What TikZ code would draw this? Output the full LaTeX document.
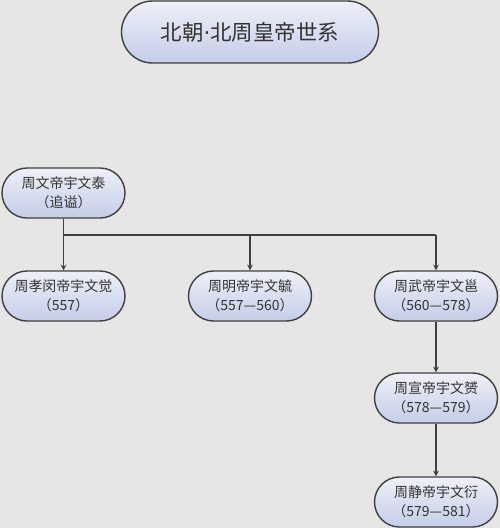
\documentclass[tikz,border=0pt]{standalone}
\usepackage{fontspec}
\setmainfont{Noto Sans CJK SC}
\newfontfamily\latinf{DejaVu Sans}
\usepackage{tikz}
\usetikzlibrary{arrows}
\usetikzlibrary{calc}
\definecolor{bgc}{HTML}{E6E6E6}
\definecolor{edgec}{HTML}{404040}
\definecolor{topc}{HTML}{EDF0F8}
\definecolor{botc}{HTML}{C5CDE8}
\definecolor{txtc}{HTML}{333333}

\begin{document}
\begin{tikzpicture}[x=1pt,y=-1pt,>=stealth,
  ruler/.style={draw=edgec,line width=1.4pt,rounded corners=25pt,
    top color=topc,bottom color=botc,minimum width=123pt,minimum height=50pt,
    align=center,text=txtc,font=\fontsize{14}{19}\selectfont,inner sep=0pt},
  link/.style={draw=edgec,line width=1.5pt}]
\fill[bgc] (0,0) rectangle (500,528);
\useasboundingbox (0,0) rectangle (500,528);
\node[ruler,minimum width=257pt,minimum height=62pt,rounded corners=31pt,
  font=\fontsize{21.5}{24}\selectfont] (title) at (250,32) {北朝{\latinf·}北周皇帝世系};
\node[ruler] (wen) at (63.5,193) {周文帝宇文泰\\（追谥）};
\node[ruler] (xiaomin) at (63.5,296) {周孝闵帝宇文觉\\（557）};
\node[ruler] (ming) at (250,296) {周明帝宇文毓\\（557—560）};
\node[ruler] (wu) at (436,296) {周武帝宇文邕\\（560—578）};
\node[ruler] (xuan) at (436,398) {周宣帝宇文赟\\（578—579）};
\node[ruler] (jing) at (436,502) {周静帝宇文衍\\（579—581）};
\coordinate (busL) at (63.5,235);
\coordinate (busM) at (250,235);
\coordinate (busR) at (436,235);
\draw[link] (wen) -- (busL) -- (busR);
\draw[link,->] (busL) -- (xiaomin);
\draw[link,->] (busM) -- (ming);
\draw[link,->] (busR) -- (wu);
\draw[link,->] (wu) -- (xuan);
\draw[link,->] (xuan) -- (jing);
\end{tikzpicture}
\end{document}
